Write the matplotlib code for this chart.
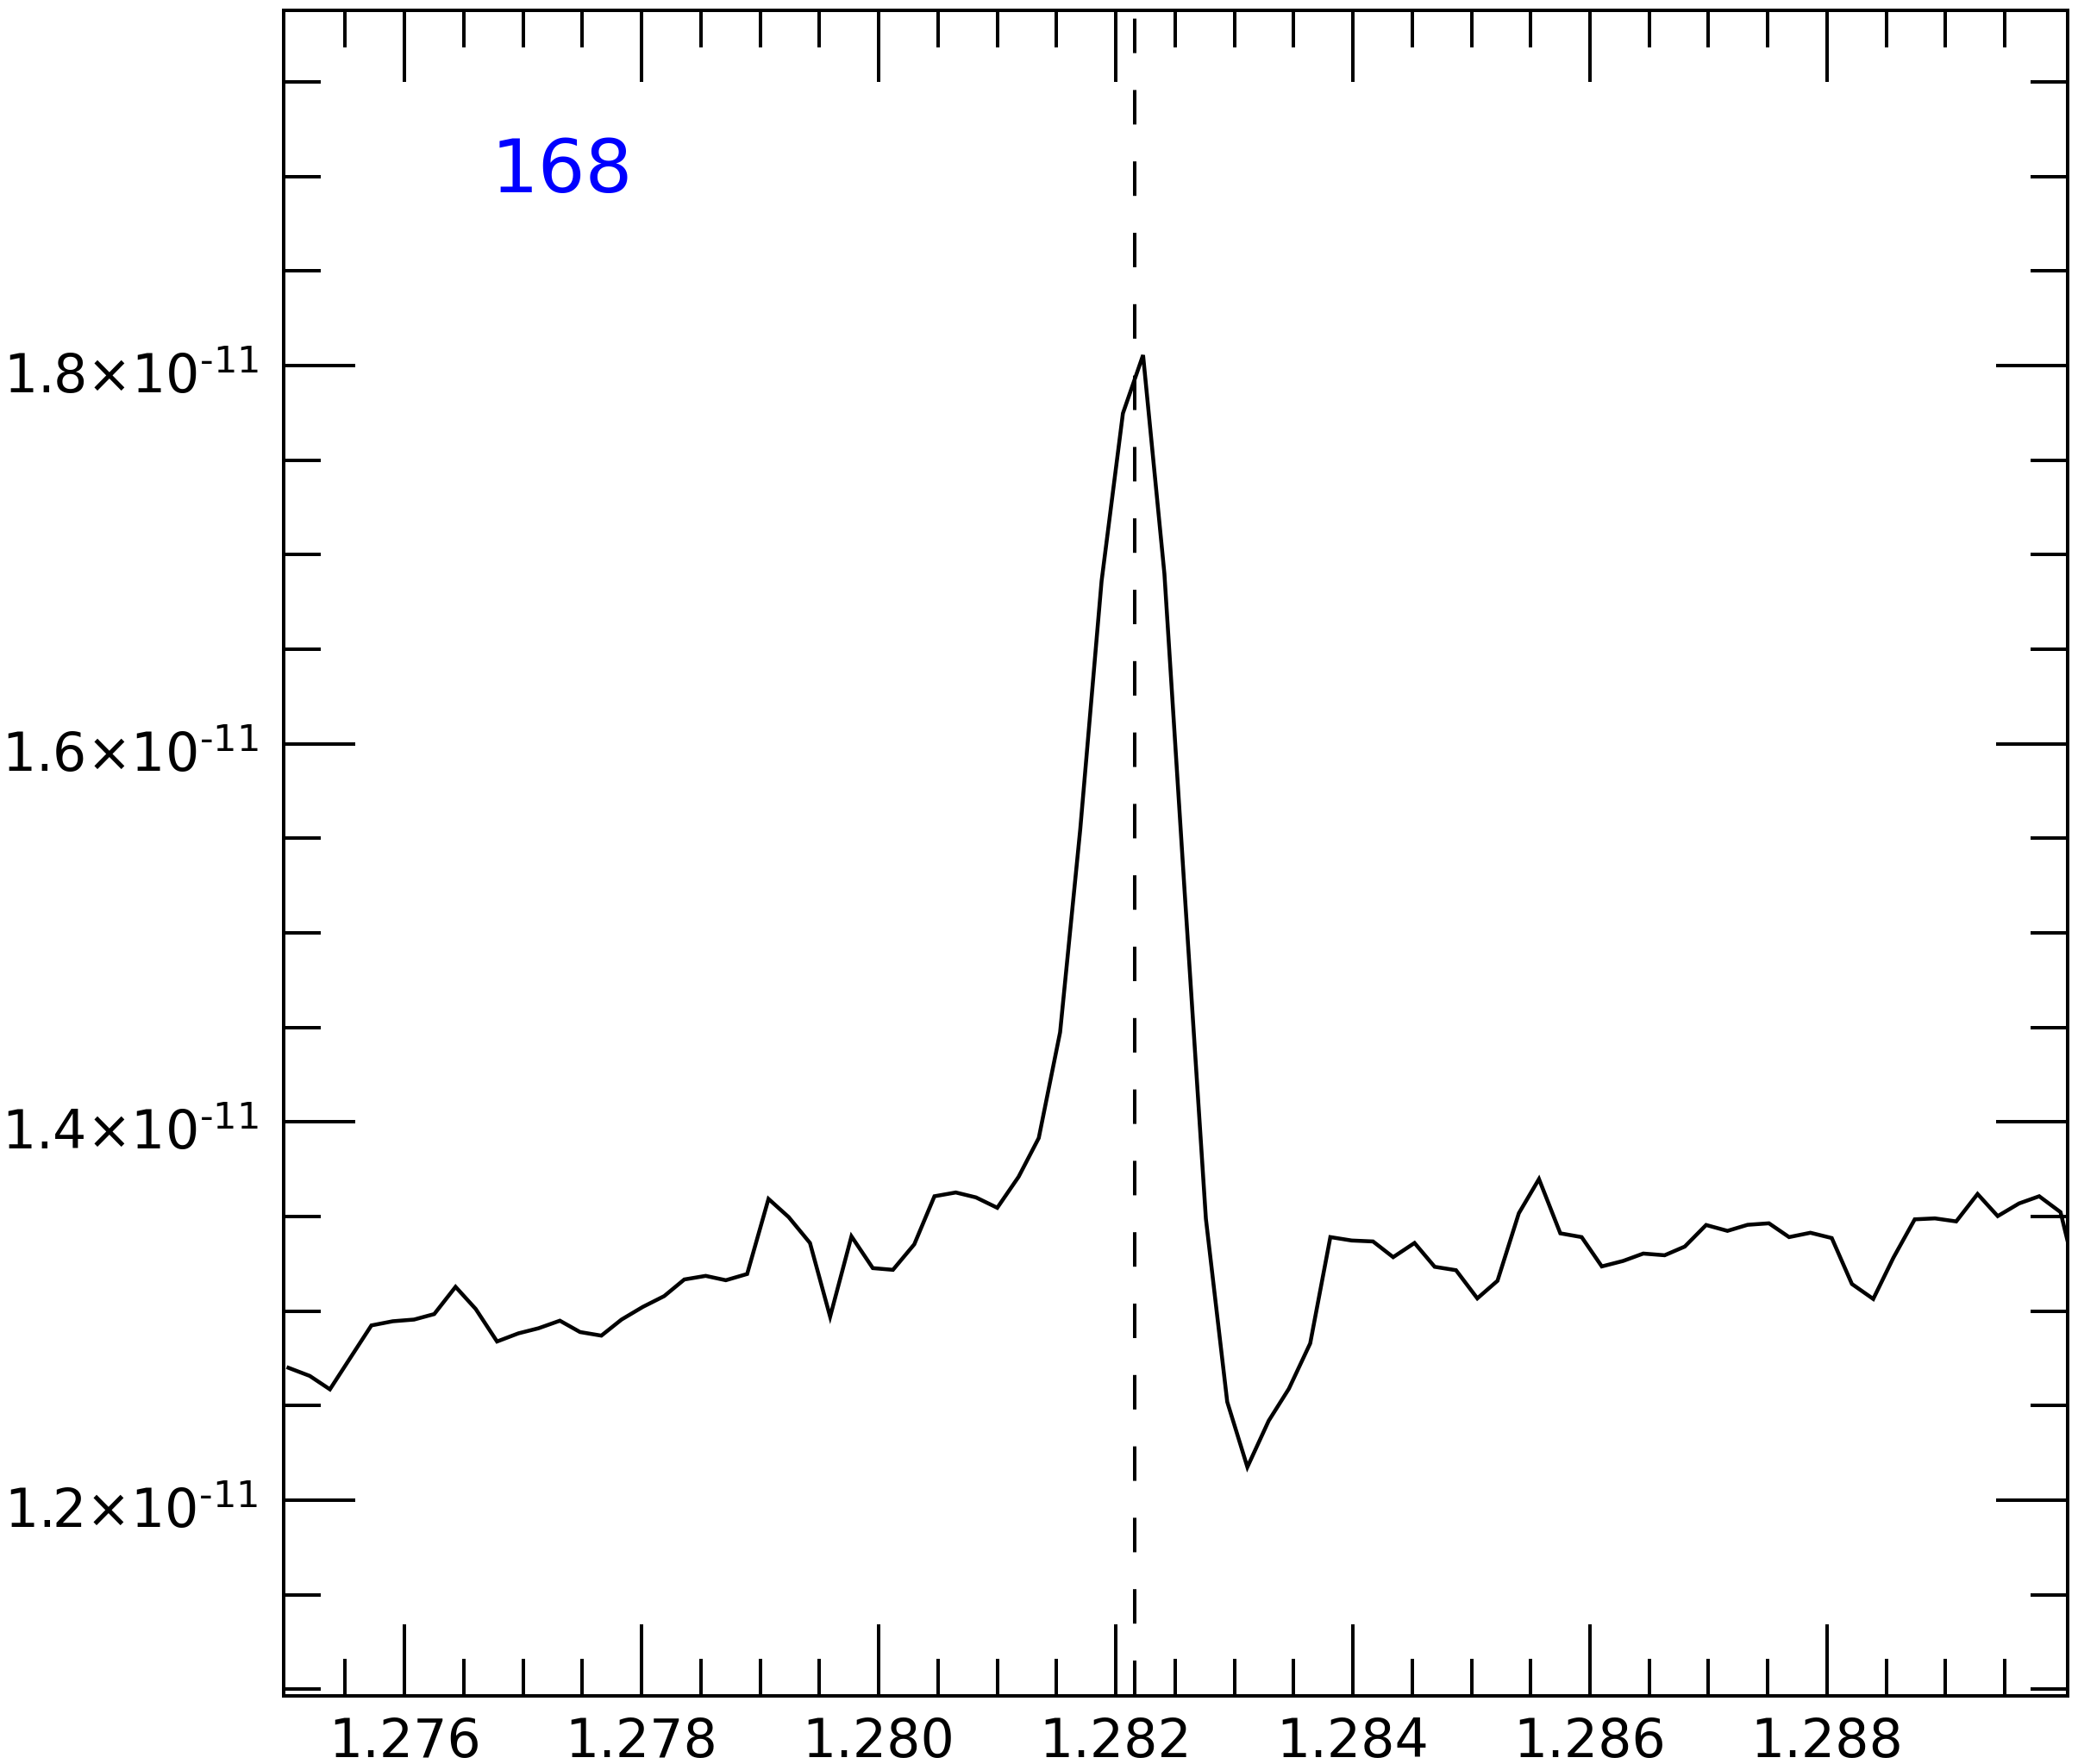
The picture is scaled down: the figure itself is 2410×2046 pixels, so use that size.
import numpy as np
import matplotlib
matplotlib.use('Agg')
import matplotlib.pyplot as plt
import matplotlib.transforms as mtransforms
from matplotlib.ticker import FixedLocator, FuncFormatter

plt.rcParams.update({
    'font.family': 'DejaVu Sans',
    'mathtext.fontset': 'dejavusans',
})

# ---------- data (wavelength in micron, flux in units of 1e-11) ----------
wavelength = [
    1.27502, 1.27520, 1.27537, 1.27555, 1.27572, 1.27590, 1.27608, 1.27625,
    1.27643, 1.27660, 1.27678, 1.27696, 1.27713, 1.27731, 1.27748, 1.27766,
    1.27783, 1.27801, 1.27819, 1.27836, 1.27854, 1.27871, 1.27889, 1.27907,
    1.27924, 1.27942, 1.27959, 1.27977, 1.27995, 1.28012, 1.28030, 1.28047,
    1.28065, 1.28082, 1.28100, 1.28118, 1.28135, 1.28153, 1.28170, 1.28188,
    1.28206, 1.28223, 1.28241, 1.28258, 1.28276, 1.28294, 1.28311, 1.28329,
    1.28346, 1.28364, 1.28381, 1.28399, 1.28417, 1.28434, 1.28452, 1.28469,
    1.28487, 1.28505, 1.28522, 1.28540, 1.28557, 1.28575, 1.28593, 1.28610,
    1.28628, 1.28645, 1.28663, 1.28680, 1.28698, 1.28716, 1.28733, 1.28751,
    1.28768, 1.28786, 1.28804, 1.28821, 1.28839, 1.28856, 1.28874, 1.28891,
    1.28909, 1.28927, 1.28944, 1.28962, 1.28979, 1.28997, 1.29015,
]
flux_e11 = [
    1.2700, 1.2657, 1.2586, 1.2760, 1.2924, 1.2946, 1.2955, 1.2984,
    1.3128, 1.3011, 1.2839, 1.2882, 1.2909, 1.2949, 1.2889, 1.2870,
    1.2955, 1.3022, 1.3079, 1.3167, 1.3186, 1.3163, 1.3196, 1.3593,
    1.3497, 1.3360, 1.2970, 1.3395, 1.3227, 1.3218, 1.3353, 1.3607,
    1.3627, 1.3601, 1.3546, 1.3710, 1.3915, 1.4474, 1.5547, 1.6860,
    1.7747, 1.8055, 1.6899, 1.5224, 1.3488, 1.2520, 1.2175, 1.2420,
    1.2589, 1.2829, 1.3391, 1.3373, 1.3368, 1.3285, 1.3360, 1.3234,
    1.3216, 1.3067, 1.3160, 1.3517, 1.3698, 1.3411, 1.3391, 1.3236,
    1.3265, 1.3304, 1.3295, 1.3341, 1.3455, 1.3424, 1.3456, 1.3464,
    1.3391, 1.3414, 1.3386, 1.3143, 1.3064, 1.3282, 1.3485, 1.3490,
    1.3474, 1.3619, 1.3502, 1.3569, 1.3607, 1.3523, 1.3060,
]
line_center = 1.28216      # Pa-beta
label_text = '168'

x_major = [1.276, 1.278, 1.280, 1.282, 1.284, 1.286, 1.288]
x_minor = [1.2755 + 0.0005 * i for i in range(29)]
y_major = [1.2e-11, 1.4e-11, 1.6e-11, 1.8e-11]
y_minor = [(1.10 + 0.05 * i) * 1e-11 for i in range(18)]

XLIM = (1.27498, 1.29003)
YLIM = (1.0965e-11, 1.9878e-11)

wl = np.array(wavelength)
flux = np.array(flux_e11) * 1e-11

# ---------- figure ----------
W, H, DPI = 2410, 2046, 100
fig = plt.figure(figsize=(W / DPI, H / DPI), dpi=DPI)
ax = fig.add_axes([329 / W, 1 - 1967 / H, (2398 - 329) / W, (1967 - 12) / H])

LW = 2.88  # points, ~4 px

ax.plot(wl, flux, color='black', lw=3.25, solid_joinstyle='miter', zorder=3)

# dashed marker line, drawn from the top down
ax.plot([line_center, line_center], [YLIM[1], YLIM[0]], color='black', lw=LW,
        linestyle=(18.3, (10.0, 10.7)), zorder=2)

ax.text(0.1165, 0.8922, label_text, transform=ax.transAxes, color='#0000FF',
        fontsize=62, ha='left', va='baseline')

ax.set_xlim(*XLIM)
ax.set_ylim(*YLIM)

ax.xaxis.set_major_locator(FixedLocator(x_major))
ax.xaxis.set_minor_locator(FixedLocator(x_minor))
ax.yaxis.set_major_locator(FixedLocator(y_major))
ax.yaxis.set_minor_locator(FixedLocator(y_minor))

ax.xaxis.set_major_formatter(FuncFormatter(lambda v, p: f'{v:.3f}'))


def sci_fmt(v, p):
    mant = v / 1e-11
    return f'{mant:.1f}×10' + r'$^{\text{-}11}$'


ax.yaxis.set_major_formatter(FuncFormatter(sci_fmt))

ax.tick_params(which='both', direction='in', top=True, right=True,
               width=LW, color='black')
ax.tick_params(which='major', length=60)
ax.tick_params(which='minor', length=31)
ax.tick_params(axis='x', which='major', labelsize=44.5, pad=17)
ax.tick_params(axis='y', which='major', labelsize=44.5, pad=21)

# y labels: baseline sits ~32 px below the tick
shift = mtransforms.ScaledTranslation(0, -32 / DPI, fig.dpi_scale_trans)
for tick in ax.yaxis.get_major_ticks():
    tick.label1.set_va('baseline')
    tick.label1.set_transform(tick.label1.get_transform() + shift)

for sp in ax.spines.values():
    sp.set_linewidth(LW)

fig.savefig('out.png', dpi=DPI)
